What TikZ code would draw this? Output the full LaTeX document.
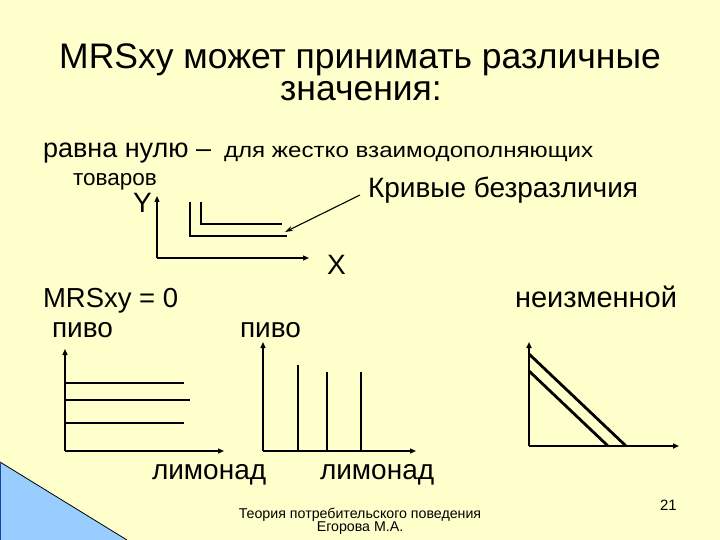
\documentclass[tikz,border=0pt]{standalone}
\usepackage{fontspec}
\setmainfont{Liberation Sans}
\usetikzlibrary{arrows.meta}
\definecolor{bgyellow}{HTML}{FFFFCC}
\definecolor{triblue}{HTML}{99CCFF}
\definecolor{edgeblue}{HTML}{1F3F9F}
\newcommand{\fs}[1]{\fontsize{#1}{#1}\selectfont}
\begin{document}
\begin{tikzpicture}[x=1pt,y=-1pt,
  txt/.style={anchor=base west,inner sep=0pt,outer sep=0pt},
  axis/.style={line width=1.3pt,-{Triangle[length=6pt,width=5pt]}},
  curve/.style={line width=1.3pt},
  thick curve/.style={line width=2.8pt},
  pointer/.style={line width=1.1pt,-{Stealth[length=8pt,width=5pt]}}]
\useasboundingbox (0,0) rectangle (720,540);
\fill[bgyellow] (0,0) rectangle (720,540);
% blue corner triangle
\fill[triblue] (0,462) -- (127,540) -- (0,540) -- cycle;
\draw[line width=0.8pt] (0,462) -- (127,540);
\draw[edgeblue,line width=1.2pt] (0.6,462) -- (0.6,540);
% title
\node[anchor=base,inner sep=0pt,font=\fs{35.5}] (t1) at (360,69) {MRSxy может принимать различные};
\node[anchor=base,inner sep=0pt,font=\fs{35.5}] (t2) at (361,101) {значения:};
% line 2
\node[txt,font=\fs{27}] (r1) at (43,158) {равна нулю –};
\node[txt,font=\fs{21}] (r2) at (224,158) {\scalebox{1.15}[1]{для жестко взаимодополняющих}};
\node[txt,font=\fs{22.5}] (tov) at (73,186) {товаров};
\node[txt,font=\fs{28}] (kb) at (368,197) {Кривые безразличия};
\node[txt,font=\fs{28}] (Y) at (133,212) {Y};
\node[txt,font=\fs{28}] (X) at (327,274) {X};
% top graph
\coordinate (o1) at (157,258);
\coordinate (y1) at (157,196);
\coordinate (x1) at (309,258);
\draw[axis] (o1) -- (y1);
\draw[axis] (o1) -- (x1);
\draw[curve] (190,202) -- (190,236) -- (287,236);
\draw[curve] (201,202) -- (201,224) -- (282,224);
\coordinate (ps) at (360,195);
\coordinate (pe) at (285,232);
\draw[pointer] (ps) -- (pe);
% MRS = 0 row
\node[txt,font=\fs{27.5}] (m0) at (43,307) {MRSxy = 0};
\node[txt,font=\fs{29}] (neiz) at (515,307) {неизменной};
\node[txt,font=\fs{28}] (p1) at (52,337) {пиво};
\node[txt,font=\fs{28}] (p2) at (240,337) {пиво};
% left graph
\coordinate (o2) at (65,451);
\coordinate (y2) at (65,349);
\coordinate (x2) at (224,451);
\draw[axis] (o2) -- (y2);
\draw[axis] (o2) -- (x2);
\draw[curve] (65,383) -- (184,383);
\draw[curve] (65,400) -- (190,400);
\draw[curve] (65,423) -- (184,423);
% middle graph
\coordinate (o3) at (263,451);
\coordinate (y3) at (263,342);
\coordinate (x3) at (416,451);
\draw[axis] (o3) -- (y3);
\draw[axis] (o3) -- (x3);
\draw[curve] (298,365) -- (298,451);
\draw[curve] (327,372) -- (327,451);
\draw[curve] (361,372) -- (361,451);
% labels
\node[txt,font=\fs{28}] (l1) at (152,479) {лимонад};
\node[txt,font=\fs{28}] (l2) at (320,479) {лимонад};
% right graph
\coordinate (o4) at (529,446);
\coordinate (y4) at (529,342);
\coordinate (x4) at (679,446);
\draw[axis,line width=2pt] (o4) -- (y4);
\draw[axis,line width=2pt] (o4) -- (x4);
\draw[thick curve] (529,354) -- (626,446);
\draw[thick curve] (529,371) -- (608,446);
% footer
\node[txt,font=\fs{15}] (n21) at (660,510) {21};
\node[anchor=base,inner sep=0pt,font=\fs{14.2}] (f1) at (360,518) {Теория потребительского поведения};
\node[anchor=base,inner sep=0pt,font=\fs{14.2}] (f2) at (360,531) {Егорова М.А.};
\end{tikzpicture}
\end{document}
